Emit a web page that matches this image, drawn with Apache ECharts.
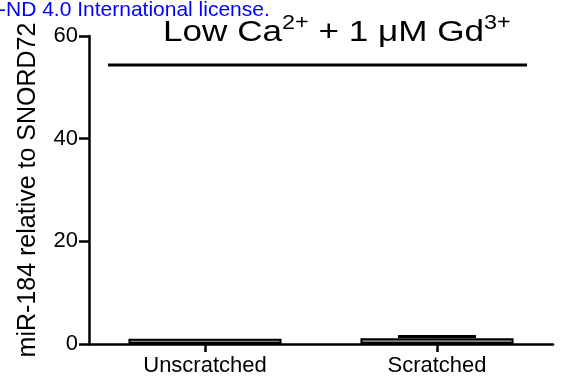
<!DOCTYPE html>
<html>
<head>
<meta charset="utf-8">
<script src="https://cdn.jsdelivr.net/npm/echarts@6/dist/echarts.min.js"></script>
<style>
  html, body { margin: 0; padding: 0; background: #fff; }
  #chart { width: 564px; height: 382px; }
</style>
</head>
<body>
<div id="chart"></div>
<script>
// miR-184 expression, low Ca2+ with 1 uM Gd3+
const categories = ['Unscratched', 'Scratched'];
const meanValues = [1.0, 1.1];
const errorUpper = [1.0, 1.45];
const yTicks = [0, 20, 40, 60];

const FONT = "'Liberation Sans', Arial, sans-serif";

const chart = echarts.init(document.getElementById('chart'), null, { renderer: 'canvas' });

const errorData = categories.map((c, i) => [i, meanValues[i], errorUpper[i]]);

chart.setOption({
  animation: false,
  backgroundColor: '#ffffff',
  grid: { left: 89, right: 11, top: 36, bottom: 38, containLabel: false },
  xAxis: {
    type: 'category',
    data: categories,
    axisLine: { lineStyle: { color: '#000', width: 2.5 } },
    axisTick: { show: true, alignWithLabel: true, length: 8, lineStyle: { color: '#000', width: 2.5 } },
    axisLabel: { color: '#000', fontFamily: FONT, fontSize: 22, margin: 11 },
    splitLine: { show: false }
  },
  yAxis: {
    type: 'value',
    min: yTicks[0],
    max: yTicks[yTicks.length - 1],
    interval: 20,
    name: 'miR-184 relative to SNORD72',
    nameLocation: 'middle',
    nameRotate: 90,
    nameGap: 48,
    nameTextStyle: { color: '#000', fontFamily: FONT, fontSize: 25 },
    axisLine: { show: true, lineStyle: { color: '#000', width: 2.5 } },
    axisTick: { show: true, length: 10, lineStyle: { color: '#000', width: 2.5 } },
    axisLabel: { color: '#000', fontFamily: FONT, fontSize: 22, margin: 11 },
    splitLine: { show: false }
  },
  series: [
    {
      type: 'bar',
      data: meanValues,
      barWidth: '66%',
      itemStyle: { color: '#808080', borderColor: '#000', borderWidth: 2 },
      z: 2
    },
    {
      type: 'custom',
      data: errorData,
      z: 3,
      renderItem: function (params, api) {
        const x = api.value(0);
        if (api.value(2) <= api.value(1)) return null;
        const lo = api.coord([x, api.value(1)]);
        const hi = api.coord([x, api.value(2)]);
        const half = api.size([1, 0])[0] * 0.168;
        return {
          type: 'group',
          children: [
            { type: 'line', shape: { x1: lo[0], y1: lo[1], x2: hi[0], y2: hi[1] },
              style: { stroke: '#000', lineWidth: 2.5 } },
            { type: 'line', shape: { x1: hi[0] - half, y1: hi[1], x2: hi[0] + half, y2: hi[1] },
              style: { stroke: '#000', lineWidth: 3 } }
          ]
        };
      }
    }
  ],
  graphic: [
    // page header text running across the top edge
    { type: 'text', left: 271, top: -20,
      style: { text: 'display the preprint in perpetuity.', fill: '#000', font: "21px " + FONT } },
    { type: 'text', left: -1, top: 0,
      style: { text: '-ND 4.0 International license.', fill: '#0000ff', font: "21px " + FONT } },
    // panel title with underline
    { type: 'text', x: 163, y: 13, scaleX: 1.17,
      style: {
        text: '{m|Low Ca}{s|2+}{m| + 1 \u03bcM Gd}{s|3+}',
        rich: {
          m: { fontFamily: FONT, fontSize: 30, fill: '#000', verticalAlign: 'bottom' },
          s: { fontFamily: FONT, fontSize: 20, fill: '#000', verticalAlign: 'top', padding: [0, 0, 15, 0] }
        }
      } },
    { type: 'line', shape: { x1: 108, y1: 65, x2: 527, y2: 65 },
      style: { stroke: '#000', lineWidth: 3 } }
  ]
});
</script>
</body>
</html>
